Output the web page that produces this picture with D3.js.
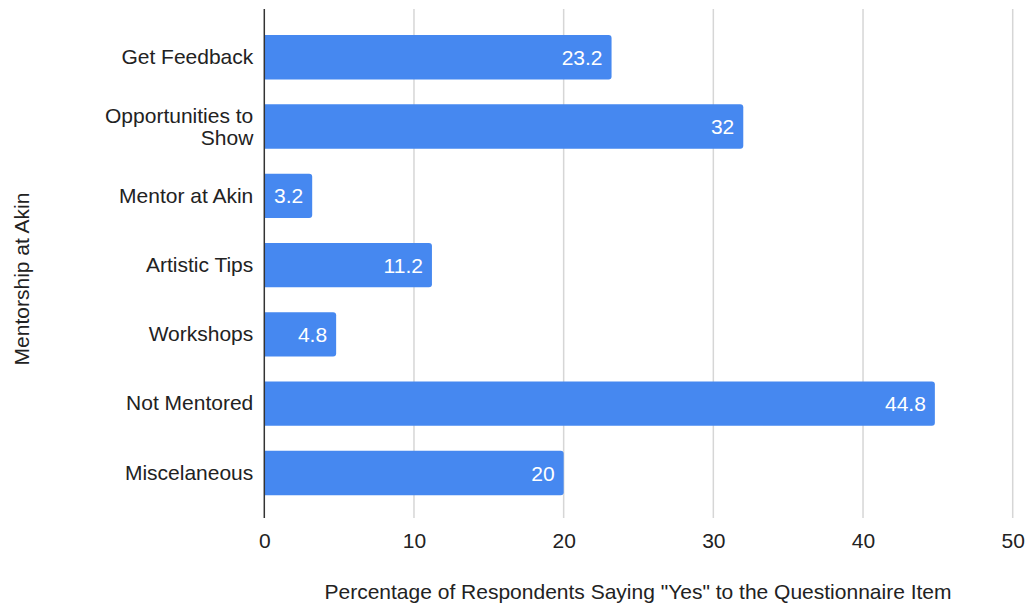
<!DOCTYPE html>
<html>
<head>
<meta charset="utf-8">
<script src="https://cdn.jsdelivr.net/npm/d3@7"></script>
<style>
  html, body { margin: 0; padding: 0; background: #ffffff; }
  svg { display: block; }
  svg text { font-family: "Liberation Sans", Arial, Helvetica, sans-serif; }
</style>
</head>
<body>
<svg id="chart" width="1027" height="606"></svg>
<script>
// Mentorship survey responses (percent answering "Yes")
const categories = [
  "Get Feedback",
  "Opportunities to Show",
  "Mentor at Akin",
  "Artistic Tips",
  "Workshops",
  "Not Mentored",
  "Miscelaneous"
];
const values = [23.2, 32, 3.2, 11.2, 4.8, 44.8, 20];
const xTicks = [0, 10, 20, 30, 40, 50];
// Category labels broken onto lines the way they are drawn
const categoryLines = {
  "Opportunities to Show": ["Opportunities to", "Show"]
};
const xTitle = 'Percentage of Respondents Saying "Yes" to the Questionnaire Item';
const yTitle = "Mentorship at Akin";

const svg = d3.select("#chart");
const plot = { left: 264.3, right: 1012.7, top: 9, bottom: 518 };
const barColor = "#4688f0";
const fontSize = 21;

const x = d3.scaleLinear().domain([0, 50]).range([plot.left, plot.right]);
const y = d3.scaleBand()
  .domain(categories)
  .range([plot.top + 1.6, plot.bottom + 1.6])
  .paddingInner(0.36)
  .paddingOuter(0.3525);

// Vertical gridlines
svg.append("g")
  .selectAll("line")
  .data(xTicks.filter(t => t !== 0))
  .join("line")
  .attr("x1", d => x(d)).attr("x2", d => x(d))
  .attr("y1", plot.top).attr("y2", plot.bottom)
  .attr("stroke", "#d6d6d6")
  .attr("stroke-width", 1.5);

// Bars with rounded right ends
const r = 3;
function barPath(d, i) {
  const x0 = x(0), x1 = x(d), y0 = y(categories[i]), h = y.bandwidth();
  const rr = Math.min(r, (x1 - x0) / 2);
  return `M${x0},${y0}H${x1 - rr}Q${x1},${y0} ${x1},${y0 + rr}` +
         `V${y0 + h - rr}Q${x1},${y0 + h} ${x1 - rr},${y0 + h}H${x0}Z`;
}
svg.append("g")
  .selectAll("path")
  .data(values)
  .join("path")
  .attr("d", barPath)
  .attr("fill", barColor);

// Value labels inside the bar ends
svg.append("g")
  .selectAll("text")
  .data(values)
  .join("text")
  .attr("x", d => x(d) - 9)
  .attr("y", (d, i) => y(categories[i]) + y.bandwidth() / 2)
  .attr("dy", "0.36em")
  .attr("text-anchor", "end")
  .attr("fill", "#ffffff")
  .attr("font-size", fontSize)
  .text(d => d3.format("~g")(d));

// Baseline axis at zero
svg.append("line")
  .attr("x1", x(0)).attr("x2", x(0))
  .attr("y1", plot.top).attr("y2", plot.bottom)
  .attr("stroke", "#333333")
  .attr("stroke-width", 1.5);

// Category axis labels
const yAxis = d3.axisLeft(y).tickSize(0).tickPadding(11);
const gy = svg.append("g")
  .attr("transform", `translate(${plot.left},0)`)
  .call(yAxis)
  .attr("font-family", null)
  .attr("font-size", null);
gy.select(".domain").remove();
gy.selectAll(".tick text")
  .attr("font-size", fontSize)
  .attr("fill", "#222222")
  .each(function (d) {
    const lines = categoryLines[d];
    if (!lines) return;
    const t = d3.select(this).text(null).attr("dy", null);
    const lh = 22;
    lines.forEach((ln, k) => {
      t.append("tspan")
        .attr("x", -11)
        .attr("y", (k - (lines.length - 1) / 2) * lh)
        .attr("dy", "0.36em")
        .text(ln);
    });
  });

// Value axis tick labels
const xAxis = d3.axisBottom(x).tickValues(xTicks).tickSize(0).tickPadding(15)
  .tickFormat(d3.format("d"));
const gx = svg.append("g")
  .attr("transform", `translate(0,${plot.bottom})`)
  .call(xAxis)
  .attr("font-family", null)
  .attr("font-size", null);
gx.select(".domain").remove();
gx.selectAll(".tick text")
  .attr("font-size", fontSize)
  .attr("fill", "#222222");

// Axis titles
svg.append("text")
  .attr("x", 638)
  .attr("y", 599)
  .attr("text-anchor", "middle")
  .attr("font-size", fontSize)
  .attr("fill", "#222222")
  .text(xTitle);

svg.append("text")
  .attr("transform", "translate(29,279) rotate(-90)")
  .attr("text-anchor", "middle")
  .attr("font-size", fontSize)
  .attr("fill", "#222222")
  .text(yTitle);
</script>
</body>
</html>
